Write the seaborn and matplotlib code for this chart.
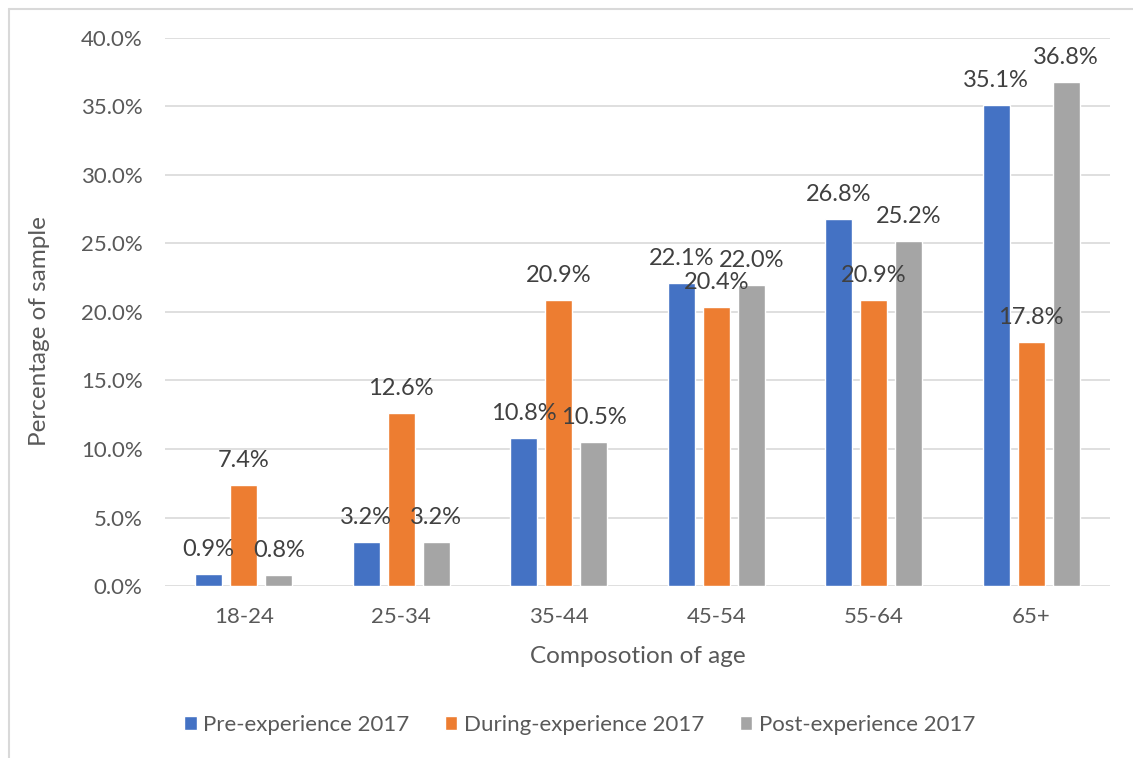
import matplotlib
matplotlib.use("Agg")
import matplotlib.pyplot as plt
from matplotlib.lines import Line2D
import seaborn as sns
import pandas as pd

# Age groups and the share of the sample (in %) for each survey wave
age_groups = ["18-24", "25-34", "35-44", "45-54", "55-64", "65+"]
pre_experience = [0.9, 3.2, 10.8, 22.1, 26.8, 35.1]
during_experience = [7.4, 12.6, 20.9, 20.4, 20.9, 17.8]
post_experience = [0.8, 3.2, 10.5, 22.0, 25.2, 36.8]
series_names = ["Pre-experience 2017", "During-experience 2017", "Post-experience 2017"]
y_ticks = [0, 5, 10, 15, 20, 25, 30, 35, 40]

colors = ["#4472C4", "#ED7D31", "#A5A5A5"]
text_grey = "#595959"
label_grey = "#404040"
grid_grey = "#D9D9D9"

df = pd.DataFrame({
    "age": age_groups * 3,
    "value": pre_experience + during_experience + post_experience,
    "series": [s for s in series_names for _ in age_groups],
})

sns.set_theme(style="white")
plt.rcParams["font.family"] = ["Lato", "DejaVu Sans"]

fig = plt.figure(figsize=(11.33, 7.58), dpi=100)
ax = fig.add_axes([0.1456, 0.2269, 0.834, 0.723])

sns.barplot(data=df, x="age", y="value", hue="series", hue_order=series_names,
            order=age_groups, palette=colors, width=0.667, gap=0.23,
            saturation=1, ax=ax, legend=True, errorbar=None)

for container in ax.containers:
    ax.bar_label(container, fmt="%.1f%%", padding=10, fontsize=17, color=label_grey)

ax.set_ylim(0, 40)
ax.set_xlim(-0.5, len(age_groups) - 0.5)
ax.set_yticks(y_ticks)
ax.set_yticklabels([f"{v:.1f}%" for v in y_ticks])
ax.yaxis.grid(True, color=grid_grey, linewidth=1.2)
ax.set_axisbelow(True)
for side in ["top", "right", "left", "bottom"]:
    ax.spines[side].set_visible(False)
ax.tick_params(axis="both", length=0, labelsize=16, labelcolor=text_grey)
ax.tick_params(axis="y", pad=16)
ax.tick_params(axis="x", pad=15)

ax.set_xlabel("Composotion of age", fontsize=17.5, color=text_grey, labelpad=14)
ax.set_ylabel("Percentage of sample", fontsize=17.5, color=text_grey)
ax.yaxis.set_label_coords(-0.133, 0.465)
ax.yaxis.label.set_verticalalignment("center")

handles, labels = ax.get_legend_handles_labels()
ax.legend(handles, labels, loc="center", bbox_to_anchor=(0.439, -0.2536),
          ncol=3, frameon=False, fontsize=16, labelcolor=text_grey,
          handlelength=0.55, handleheight=0.55, handletextpad=0.3,
          columnspacing=1.6)

# Chart-area frame along the left and top edges
fig.add_artist(Line2D([9 / 1133, 9 / 1133], [0, 1 - 9 / 758], color=grid_grey, lw=1.5,
                      transform=fig.transFigure))
fig.add_artist(Line2D([9 / 1133, 1], [1 - 9 / 758, 1 - 9 / 758], color=grid_grey, lw=1.5,
                      transform=fig.transFigure))

fig.savefig("out.png", dpi=100, facecolor="white")
